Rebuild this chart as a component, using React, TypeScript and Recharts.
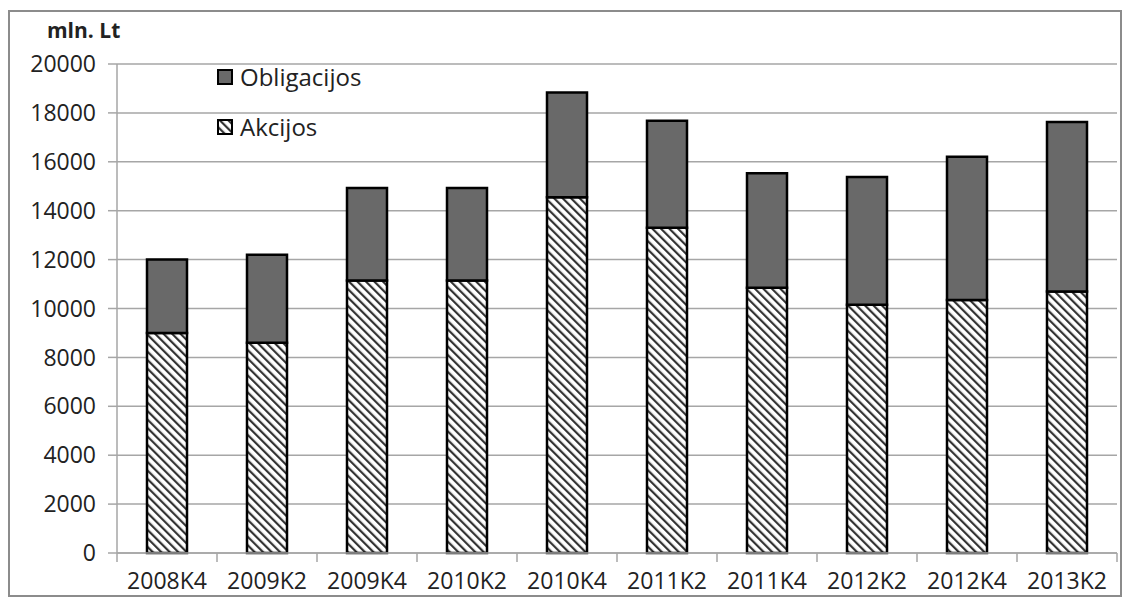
import { Bar, BarChart, CartesianGrid, Legend, XAxis, YAxis } from 'recharts';

const categories = ['2008K4', '2009K2', '2009K4', '2010K2', '2010K4', '2011K2', '2011K4', '2012K2', '2012K4', '2013K2'];
const akcijos = [9000, 8600, 11150, 11150, 14550, 13300, 10850, 10150, 10350, 10700];
const obligacijos = [3000, 3600, 3780, 3780, 4280, 4380, 4680, 5230, 5860, 6930];
const yTicks = [0, 2000, 4000, 6000, 8000, 10000, 12000, 14000, 16000, 18000, 20000];
const unitLabel = 'mln. Lt';

const data = categories.map((name, i) => ({
  name,
  akcijos: akcijos[i],
  obligacijos: obligacijos[i],
}));

const FONT = '"Open Sans", sans-serif';
const GRID = '#a6a6a6';
const TEXT = '#222';

// label plus a tick mark on the category boundary (Excel style)
function CategoryTick(props: any) {
  const { x, y, width, index, payload } = props;
  const band = width / categories.length;
  const left = x - band / 2;
  const isLast = index === categories.length - 1;
  return (
    <g>
      <line x1={left} x2={left} y1={y} y2={y + 9} stroke={GRID} strokeWidth={1.5} />
      {isLast && <line x1={left + band} x2={left + band} y1={y} y2={y + 9} stroke={GRID} strokeWidth={1.5} />}
      <text x={x} y={y + 20} dy="0.71em" textAnchor="middle" fill={TEXT} fontSize={23} fontFamily={FONT}>
        {payload.value}
      </text>
    </g>
  );
}

function LegendBox() {
  const items = [
    { label: 'Obligacijos', fill: '#696969' },
    { label: 'Akcijos', fill: 'url(#hatch)' },
  ];
  return (
    <div style={{ fontFamily: FONT, fontSize: 24, color: TEXT }}>
      {items.map((it) => (
        <div key={it.label} style={{ display: 'flex', alignItems: 'center', height: 50, lineHeight: '24px' }}>
          <svg width={16} height={16} style={{ marginRight: 7 }}>
            <rect x={1} y={1} width={14} height={14} fill={it.fill} stroke="#000" strokeWidth={2} />
          </svg>
          <span>{it.label}</span>
        </div>
      ))}
    </div>
  );
}

export default function App() {
  return (
    <div
      style={{
        position: 'absolute',
        left: 8,
        top: 10,
        width: 1114,
        height: 587,
        border: '2px solid #8c8c8c',
        boxSizing: 'border-box',
        background: '#fff',
        overflow: 'hidden',
      }}
    >
      <div
        style={{
          position: 'absolute',
          left: 37,
          top: 4,
          fontFamily: FONT,
          fontWeight: 700,
          fontSize: 21,
          color: TEXT,
        }}
      >
        {unitLabel}
      </div>
      <BarChart
        width={1110}
        height={583}
        data={data}
        barCategoryGap="30%"
        margin={{ top: 52, right: 3, left: 0, bottom: 0 }}
      >
        <defs>
          <pattern id="hatch" patternUnits="userSpaceOnUse" width={6} height={6} patternTransform="rotate(-45)">
            <rect width={6} height={6} fill="#fff" />
            <line x1={0} y1={0} x2={0} y2={6} stroke="#333" strokeWidth={4.4} />
          </pattern>
        </defs>
        <CartesianGrid vertical={false} stroke={GRID} strokeWidth={1.5} />
        <XAxis
          dataKey="name"
          interval={0}
          height={42}
          axisLine={{ stroke: GRID, strokeWidth: 1.5 }}
          tickLine={false}
          tickSize={0}
          tickMargin={0}
          tick={<CategoryTick />}
        />
        <YAxis
          domain={[0, 20000]}
          ticks={yTicks}
          width={107}
          tickSize={9}
          tickMargin={12}
          axisLine={{ stroke: GRID, strokeWidth: 1.5 }}
          tickLine={{ stroke: GRID, strokeWidth: 1.5 }}
          tick={{ fill: TEXT, fontSize: 23, fontFamily: FONT }}
        />
        <Legend
          layout="vertical"
          align="center"
          verticalAlign="middle"
          content={() => <LegendBox />}
          wrapperStyle={{ left: 207, top: 40, width: 200 }}
        />
        <Bar
          dataKey="akcijos"
          name="Akcijos"
          stackId="s"
          fill="url(#hatch)"
          stroke="#000"
          strokeWidth={2.5}
          isAnimationActive={false}
        />
        <Bar
          dataKey="obligacijos"
          name="Obligacijos"
          stackId="s"
          fill="#696969"
          stroke="#000"
          strokeWidth={2.5}
          isAnimationActive={false}
        />
      </BarChart>
    </div>
  );
}
